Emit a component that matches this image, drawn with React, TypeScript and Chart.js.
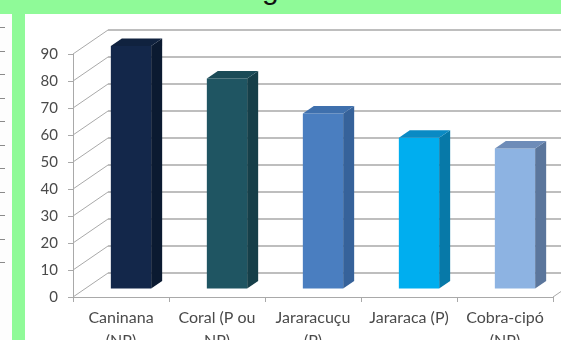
import React, { useEffect, useRef } from "react";
import { Chart, registerables } from "chart.js";

Chart.register(...registerables);

const categories: string[][] = [
  ["Caninana", "(NP)"],
  ["Coral (P ou", "NP)"],
  ["Jararacuçu", "(P)"],
  ["Jararaca (P)"],
  ["Cobra-cipó", "(NP)"],
];
const values: number[] = [90, 78, 65, 56, 52];
const yMin = 0;
const yMax = 90;
const yStep = 10;

const frontColors = ["#13274a", "#1f5562", "#4a7ec0", "#00aeef", "#8db3e2"];
const sideColors = ["#0b1a31", "#163f49", "#36629a", "#0779a8", "#5b769c"];
const topColors = ["#10223f", "#1b4b57", "#3f70ad", "#0a8ac4", "#6e8cb8"];

const sideStrokes = [27, 50.5, 74, 97.5, 121, 144.5, 168, 191.5, 215, 238.5, 262];

const WALL_DX = 35;
const WALL_DY = -24;
const BAR_SHIFT_X = 10;
const BAR_SHIFT_Y = -8;
const BAR_DX = 11;
const BAR_DY = -7.5;
const LINE = "#a9a9a9";

const threeD = {
  id: "threeD",
  beforeDatasetsDraw(chart: any) {
    const { ctx, chartArea: a } = chart;
    const y = chart.scales.y;
    ctx.save();
    ctx.strokeStyle = LINE;
    y.ticks.forEach((t: any) => {
      const py = y.getPixelForValue(t.value);
      ctx.lineWidth = 1;
      ctx.beginPath();
      ctx.moveTo(a.left, py);
      ctx.lineTo(a.left + WALL_DX, py + WALL_DY);
      ctx.stroke();
      ctx.lineWidth = 1.6;
      ctx.beginPath();
      ctx.moveTo(a.left + WALL_DX, py + WALL_DY);
      ctx.lineTo(a.right + WALL_DX, py + WALL_DY);
      ctx.stroke();
    });
    ctx.restore();
    ctx.save();
    ctx.translate(BAR_SHIFT_X, BAR_SHIFT_Y);
  },
  afterDatasetsDraw(chart: any) {
    const ctx = chart.ctx;
    const meta = chart.getDatasetMeta(0);
    meta.data.forEach((bar: any, i: number) => {
      const { x, y, base, width } = bar.getProps(["x", "y", "base", "width"], true);
      const l = x - width / 2;
      const r = x + width / 2;
      ctx.fillStyle = sideColors[i];
      ctx.beginPath();
      ctx.moveTo(r, y);
      ctx.lineTo(r + BAR_DX, y + BAR_DY);
      ctx.lineTo(r + BAR_DX, base + BAR_DY);
      ctx.lineTo(r, base);
      ctx.closePath();
      ctx.fill();
      ctx.fillStyle = topColors[i];
      ctx.beginPath();
      ctx.moveTo(l, y);
      ctx.lineTo(l + BAR_DX, y + BAR_DY);
      ctx.lineTo(r + BAR_DX, y + BAR_DY);
      ctx.lineTo(r, y);
      ctx.closePath();
      ctx.fill();
    });
    ctx.restore();
    const a = chart.chartArea;
    ctx.save();
    ctx.strokeStyle = LINE;
    ctx.lineWidth = 1;
    ctx.beginPath();
    ctx.moveTo(a.right, a.bottom);
    ctx.lineTo(a.right + WALL_DX, a.bottom + WALL_DY);
    ctx.stroke();
    ctx.restore();
  },
};

export default function App() {
  const ref = useRef<HTMLCanvasElement | null>(null);

  useEffect(() => {
    if (!ref.current) return;
    const chart = new Chart(ref.current, {
      type: "bar",
      data: {
        labels: categories,
        datasets: [
          {
            data: values,
            backgroundColor: frontColors,
            borderWidth: 0,
            categoryPercentage: 1,
            barPercentage: 0.42,
            clip: false as any,
          },
        ],
      },
      options: {
        responsive: false,
        animation: false,
        devicePixelRatio: 1,
        layout: { padding: { top: 40, right: 8, left: 0, bottom: 0 } },
        plugins: { legend: { display: false }, tooltip: { enabled: false }, title: { display: false } },
        scales: {
          x: {
            afterFit: (s: any) => {
              s.height = 43;
            },
            grid: { drawOnChartArea: false, drawTicks: true, tickLength: 5, color: LINE },
            border: { display: true, color: LINE, width: 1 },
            ticks: {
              maxRotation: 0,
              autoSkip: false,
              padding: 5,
              color: "#4a4a4a",
              font: { family: "Lato", size: 16, lineHeight: 1.4 },
            },
          },
          y: {
            min: yMin,
            max: yMax,
            afterFit: (s: any) => {
              s.width = 48;
            },
            grid: { drawOnChartArea: false, drawTicks: true, tickLength: 5, color: LINE },
            border: { display: true, color: LINE, width: 1 },
            ticks: {
              stepSize: yStep,
              padding: 10,
              color: "#4a4a4a",
              font: { family: "Lato", size: 15 },
            },
          },
        },
      },
      plugins: [threeD],
    });
    return () => chart.destroy();
  }, []);

  return (
    <div
      style={{
        position: "fixed",
        left: 0,
        top: 0,
        width: 561,
        height: 340,
        background: "#8ffa98",
        overflow: "hidden",
      }}
    >
      <div
        style={{
          position: "absolute",
          left: 262,
          top: -26,
          fontFamily: "Liberation Sans",
          fontSize: 30,
          lineHeight: "30px",
          color: "#111",
        }}
      >
        g
      </div>
      <div style={{ position: "absolute", left: 0, top: 14, width: 12, height: 326, background: "#fdfdfd" }}>
        {sideStrokes.map((yy, i) => (
          <div
            key={i}
            style={{ position: "absolute", left: 0, top: yy - 14, width: 5, height: 1, background: "#8a8a8a" }}
          />
        ))}
      </div>
      <div style={{ position: "absolute", left: 25, top: 14, width: 536, height: 326, background: "#ffffff" }}>
        <canvas ref={ref} width={536} height={326} style={{ width: 536, height: 326, display: "block" }} />
      </div>
    </div>
  );
}
